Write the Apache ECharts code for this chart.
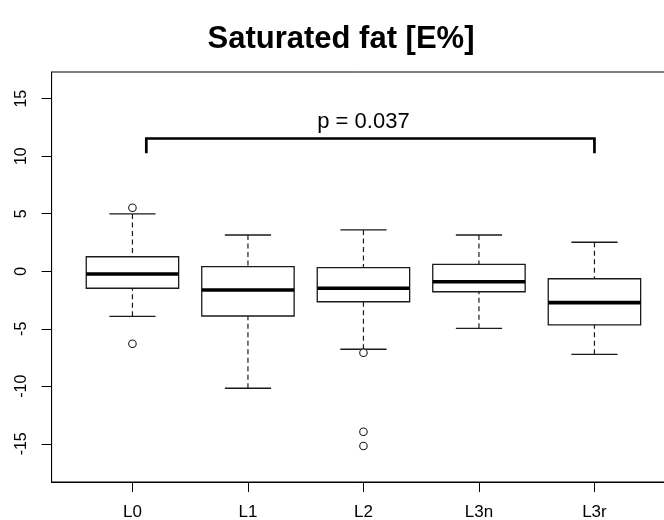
<!DOCTYPE html>
<html><head><meta charset="utf-8">
<script src="https://cdn.jsdelivr.net/npm/echarts@6/dist/echarts.min.js"></script>
<style>html,body{margin:0;padding:0;background:#fff}#c{width:664px;height:520px}</style>
</head><body><div id="c"></div>
<script>
// ---- data ----
const categories = ['L0', 'L1', 'L2', 'L3n', 'L3r'];
const whiskerLow  = [-3.92, -10.17, -6.78, -4.96, -7.22];
const q1          = [-1.48,  -3.89, -2.65, -1.78, -4.67];
const median      = [-0.24,  -1.63, -1.48, -0.91, -2.73];
const q3          = [ 1.26,   0.40,  0.31,  0.60, -0.65];
const whiskerHigh = [ 4.98,   3.15,  3.59,  3.15,  2.52];
const outlierGroup = [0, 0, 2, 2, 2];
const outlierValue = [5.52, -6.30, -7.08, -13.95, -15.19];
const yTicks = [-15, -10, -5, 0, 5, 10, 15];
const bracketFrom = 1.12, bracketTo = 5.0, bracketTop = 11.54, bracketBottom = 10.25;
const pLabel = 'p = 0.037', pLabelX = 3.0, pLabelY = 13.0;

const positions = categories.map((c, i) => i + 1);
const boxData = categories.map((c, i) => [positions[i], whiskerLow[i], q1[i], median[i], q3[i], whiskerHigh[i]]);
const outlierData = outlierGroup.map((g, i) => [positions[g], outlierValue[i]]);
const bracketData = [[bracketFrom, bracketTo, bracketTop, bracketBottom, pLabelX, pLabelY]];

const FONT = '"Liberation Sans", Arial, Helvetica, sans-serif';
const INK = '#1a1a1a';

function renderBox(params, api) {
  const x = api.value(0);
  const band = api.size([1, 0])[0];
  const bw = band * 0.8, cw = band * 0.4;
  const pLow = api.coord([x, api.value(1)]);
  const pQ1 = api.coord([x, api.value(2)]);
  const pMed = api.coord([x, api.value(3)]);
  const pQ3 = api.coord([x, api.value(4)]);
  const pHigh = api.coord([x, api.value(5)]);
  const cx = pMed[0];
  const dash = { stroke: INK, lineWidth: 1.2, lineDash: [5, 3.5] };
  const solid = { stroke: INK, lineWidth: 1.3 };
  return {
    type: 'group',
    children: [
      { type: 'line', shape: { x1: cx, y1: pHigh[1], x2: cx, y2: pQ3[1] }, style: dash },
      { type: 'line', shape: { x1: cx, y1: pLow[1], x2: cx, y2: pQ1[1] }, style: dash },
      { type: 'line', shape: { x1: cx - cw / 2, y1: pHigh[1], x2: cx + cw / 2, y2: pHigh[1] }, style: solid },
      { type: 'line', shape: { x1: cx - cw / 2, y1: pLow[1], x2: cx + cw / 2, y2: pLow[1] }, style: solid },
      { type: 'rect', shape: { x: cx - bw / 2, y: pQ3[1], width: bw, height: pQ1[1] - pQ3[1] },
        style: { fill: '#fff', stroke: INK, lineWidth: 1.3 } },
      { type: 'line', shape: { x1: cx - bw / 2, y1: pMed[1], x2: cx + bw / 2, y2: pMed[1] },
        style: { stroke: '#000', lineWidth: 3.6 } }
    ]
  };
}

function renderBracket(params, api) {
  const a = api.coord([api.value(0), api.value(3)]);
  const b = api.coord([api.value(0), api.value(2)]);
  const c = api.coord([api.value(1), api.value(2)]);
  const d = api.coord([api.value(1), api.value(3)]);
  const t = api.coord([api.value(4), api.value(5)]);
  return {
    type: 'group',
    children: [
      { type: 'polyline', shape: { points: [a, b, c, d] },
        style: { stroke: '#000', lineWidth: 2.7, fill: null, lineJoin: 'miter' } },
      { type: 'text', x: t[0], y: t[1],
        style: { text: pLabel, font: '22px ' + FONT, fill: '#000',
                 align: 'center', verticalAlign: 'middle',
                 textAlign: 'center', textVerticalAlign: 'middle' } }
    ]
  };
}

const chart = echarts.init(document.getElementById('c'), null, { renderer: 'canvas' });
chart.setOption({
  animation: false,
  backgroundColor: '#fff',
  title: {
    text: 'Saturated fat [E%]',
    left: 336, top: 19, textAlign: 'center',
    textStyle: { fontSize: 31, fontWeight: 'bold', color: '#000', fontFamily: FONT }
  },
  grid: {
    left: 51.6, top: 72, width: 623.7, height: 410,
    show: true, borderColor: '#000', borderWidth: 1, backgroundColor: 'transparent',
    containLabel: false, outerBoundsMode: 'none'
  },
  xAxis: {
    type: 'value', min: 0.3, max: 5.7,
    axisLine: { show: true, onZero: false, lineStyle: { color: '#000', width: 1 } },
    axisTick: { show: true, customValues: positions, length: 10, lineStyle: { color: '#000', width: 1 } },
    axisLabel: {
      show: true, customValues: positions, margin: 22,
      formatter: v => categories[Math.round(v) - 1],
      fontSize: 17, color: '#000', fontFamily: FONT
    },
    splitLine: { show: false }
  },
  yAxis: {
    type: 'value', min: -18.32, max: 17.32,
    axisLine: { show: true, onZero: false, lineStyle: { color: '#000', width: 1 } },
    axisTick: { show: true, customValues: yTicks, length: 10, lineStyle: { color: '#000', width: 1 } },
    axisLabel: {
      show: true, customValues: yTicks, rotate: 90, margin: 22,
      fontSize: 16, color: '#000', fontFamily: FONT
    },
    splitLine: { show: false }
  },
  series: [
    {
      type: 'custom', name: 'box', renderItem: renderBox, data: boxData,
      encode: { x: 0, y: [1, 2, 3, 4, 5] }, z: 2, clip: false
    },
    {
      type: 'scatter', name: 'outliers', data: outlierData, symbol: 'circle', symbolSize: 7.5,
      itemStyle: { color: '#fff', borderColor: INK, borderWidth: 1.1, opacity: 1 }, z: 3
    },
    {
      type: 'custom', name: 'bracket', renderItem: renderBracket, data: bracketData,
      encode: { x: [0, 1, 4], y: [2, 3, 5] }, z: 4, clip: false
    }
  ]
});
</script>
</body></html>
